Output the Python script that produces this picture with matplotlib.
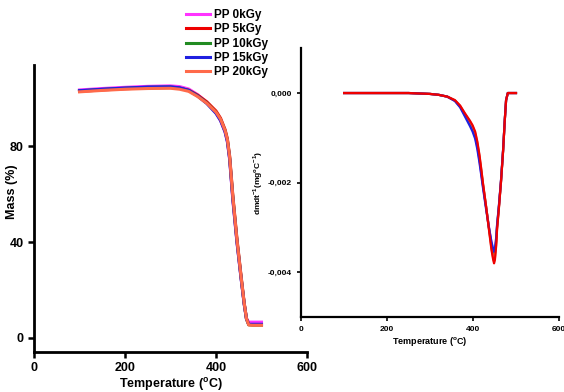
import matplotlib
matplotlib.use('Agg')
import matplotlib.pyplot as plt

plt.rcParams['font.family'] = ['Liberation Sans', 'DejaVu Sans']
plt.rcParams['font.weight'] = 'bold'

labels = ['PP 0kGy', 'PP 5kGy', 'PP 10kGy', 'PP 15kGy', 'PP 20kGy']
colors = ['#ff33ff', '#ee0000', '#228b22', '#2020e0', '#ff6a4a']

# TGA curves (mass %)
t_tga = [100, 150, 200, 250, 300, 320, 340, 360, 380, 400, 410, 420, 425,
         430, 437, 446, 455, 462, 467, 472, 480, 490, 500]
mass = {
    'PP 0kGy':  [103.6, 104.2, 104.7, 105.1, 105.3, 105.0, 104.0, 101.6, 98.4, 94.0, 90.8, 86.0, 82.0,
                 74.5, 57.5, 40.0, 25.0, 14.0, 8.0, 6.5, 6.5, 6.5, 6.5],
    'PP 5kGy':  [103.0, 103.6, 104.1, 104.5, 104.6, 104.3, 103.5, 101.4, 98.6, 94.8, 91.8, 87.0, 83.2,
                 76.0, 59.5, 41.5, 26.0, 14.5, 8.0, 5.5, 5.4, 5.4, 5.4],
    'PP 10kGy': [103.2, 103.8, 104.3, 104.7, 104.8, 104.4, 103.4, 101.1, 98.1, 94.2, 91.2, 86.4, 82.6,
                 75.2, 58.6, 40.6, 25.4, 14.2, 7.8, 5.4, 5.3, 5.3, 5.3],
    'PP 15kGy': [103.3, 103.9, 104.4, 104.8, 104.9, 104.5, 103.4, 101.0, 97.9, 93.8, 90.8, 86.0, 82.0,
                 74.8, 58.0, 40.2, 25.0, 14.0, 7.8, 5.6, 5.6, 5.6, 5.6],
    'PP 20kGy': [102.8, 103.4, 103.9, 104.2, 104.3, 103.9, 103.0, 100.8, 98.0, 94.3, 91.4, 86.6, 82.8,
                 75.6, 59.0, 41.0, 25.6, 14.4, 7.9, 5.3, 5.2, 5.2, 5.2],
}

# DTG curves
t_dtg = [100, 150, 200, 250, 300, 320, 340,
         358, 370, 381, 393, 399, 405, 410, 415, 419, 423,
         430, 437, 443, 447, 449, 451, 454, 456, 460, 465,
         470, 474, 477, 481, 490, 500]
dtg = {
    'PP 0kGy':  [0, 0, 0, 0, -0.00002, -0.00004, -0.00008,
                 -0.00017, -0.00030, -0.00049, -0.00070, -0.00082, -0.00098, -0.00120, -0.00150, -0.00178, -0.00206,
                 -0.00252, -0.00298, -0.00334, -0.00352, -0.00358, -0.00352, -0.00326, -0.00296, -0.00256, -0.00198,
                 -0.00128, -0.00060, -0.00016, 0, 0, 0],
    'PP 5kGy':  [0, 0, 0, 0, -0.00002, -0.00004, -0.00008,
                 -0.00016, -0.00028, -0.00045, -0.00062, -0.00072, -0.00086, -0.00108, -0.00138, -0.00168, -0.00200,
                 -0.00250, -0.00304, -0.00350, -0.00372, -0.00380, -0.00372, -0.00340, -0.00304, -0.00260, -0.00200,
                 -0.00130, -0.00060, -0.00016, 0, 0, 0],
    'PP 10kGy': [0, 0, 0, 0, -0.00002, -0.00004, -0.00008,
                 -0.00017, -0.00030, -0.00048, -0.00068, -0.00079, -0.00094, -0.00116, -0.00146, -0.00174, -0.00204,
                 -0.00251, -0.00300, -0.00340, -0.00358, -0.00364, -0.00358, -0.00330, -0.00298, -0.00257, -0.00199,
                 -0.00129, -0.00060, -0.00016, 0, 0, 0],
    'PP 15kGy': [0, 0, 0, 0, -0.00002, -0.00004, -0.00008,
                 -0.00018, -0.00032, -0.00052, -0.00074, -0.00086, -0.00102, -0.00125, -0.00155, -0.00182, -0.00210,
                 -0.00256, -0.00300, -0.00332, -0.00348, -0.00354, -0.00348, -0.00322, -0.00294, -0.00254, -0.00197,
                 -0.00127, -0.00059, -0.00016, 0, 0, 0],
    'PP 20kGy': [0, 0, 0, 0, -0.00002, -0.00004, -0.00008,
                 -0.00016, -0.00029, -0.00046, -0.00064, -0.00074, -0.00089, -0.00111, -0.00141, -0.00170, -0.00201,
                 -0.00250, -0.00302, -0.00346, -0.00368, -0.00376, -0.00368, -0.00336, -0.00302, -0.00259, -0.00200,
                 -0.00130, -0.00060, -0.00016, 0, 0, 0],
}

fig = plt.figure(figsize=(5.64, 3.92), dpi=100)
fig.patch.set_facecolor('white')

# left panel: TGA
ax1 = fig.add_axes([0.0603, 0.102, 0.484, 0.732])
for lab, c in zip(labels, colors):
    ax1.plot(t_tga, mass[lab], color=c, lw=2.2, label=lab)
ax1.set_xlim(0, 600)
ax1.set_ylim(-6, 114)
ax1.set_xticks([0, 200, 400, 600])
ax1.set_yticks([0, 40, 80])
for s in ['top', 'right']:
    ax1.spines[s].set_visible(False)
for s in ['left', 'bottom']:
    ax1.spines[s].set_linewidth(2)
ax1.tick_params(width=1.8, length=4, labelsize=9)
for lb in ax1.get_xticklabels() + ax1.get_yticklabels():
    lb.set_fontweight('bold')
ax1.set_xlabel('Temperature ($^{\\mathregular{o}}$C)', fontsize=9, fontweight='bold', labelpad=1)
ax1.set_ylabel('Mass (%)', fontsize=9, fontweight='bold')
ax1.yaxis.set_label_coords(-0.059, 0.56)

# right panel: DTG
ax2 = fig.add_axes([0.534, 0.191, 0.457, 0.686])
order = ['PP 0kGy', 'PP 10kGy', 'PP 20kGy', 'PP 15kGy', 'PP 5kGy']
for lab in order:
    c = colors[labels.index(lab)]
    ax2.plot(t_dtg, dtg[lab], color=c, lw=1.6)
ax2.set_xlim(0, 600)
ax2.set_ylim(-0.005, 0.001)
ax2.set_xticks([0, 200, 400, 600])
ax2.set_yticks([0, -0.002, -0.004])
ax2.set_yticklabels(['0,000', '-0,002', '-0,004'])
for s in ['top', 'right']:
    ax2.spines[s].set_visible(False)
for s in ['left', 'bottom']:
    ax2.spines[s].set_linewidth(1.6)
ax2.tick_params(width=1.2, length=3, labelsize=6)
for lb in ax2.get_xticklabels() + ax2.get_yticklabels():
    lb.set_fontweight('bold')
ax2.set_xlabel('Temperature ($^{\\mathregular{o}}$C)', fontsize=6.5, fontweight='bold', labelpad=1)
ax2.set_ylabel('dmdt$^{\\mathregular{-1}}$(mg$^{\\mathregular{o}}$C$^{\\mathregular{-1}}$)',
               fontsize=6, fontweight='bold', labelpad=2)

h, l = ax1.get_legend_handles_labels()
fig.legend(h, l, loc='upper left', bbox_to_anchor=(186 / 564, 1 - 9 / 392),
           frameon=False, handlelength=2.0, handletextpad=0.4,
           labelspacing=0.2, borderpad=0, borderaxespad=0,
           prop={'weight': 'bold', 'size': 8.5})

fig.savefig('out.png', dpi=100, facecolor='white')
